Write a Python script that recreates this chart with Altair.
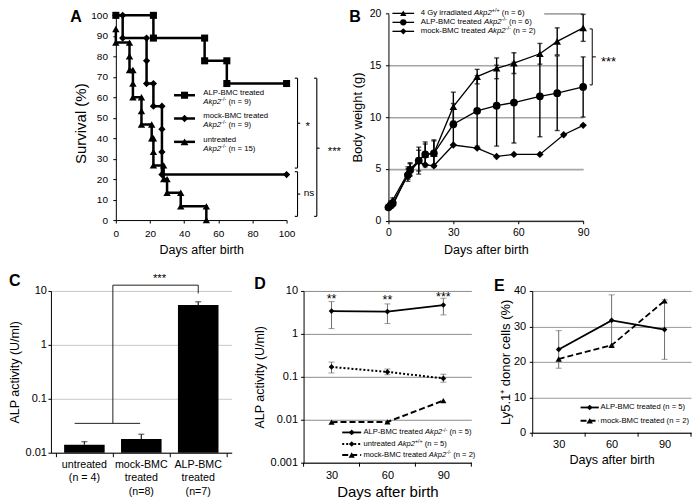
import altair as alt
import pandas as pd

FONT = "Liberation Sans"

# ======================= DATA =======================
# ---- A: Kaplan-Meier survival (vertices of the step curves) ----
a_names = ["ALP-BMC treated", "mock-BMC treated", "untreated"]
a_n = ["9", "9", "15"]
a_alp_day = [0, 22, 22, 52, 52, 65, 65, 100]
a_alp_surv = [100, 100, 88.9, 88.9, 77.8, 77.8, 66.7, 66.7]
a_mock_day = [0, 4, 4, 18, 18, 18, 22, 22, 27, 27, 27, 27, 100]
a_mock_surv = [100, 100, 88.9, 88.9, 77.8, 66.7, 66.7, 55.6, 55.6, 44.4, 33.3, 22.2, 22.2]
a_unt_day = [0, 0, 8, 8, 8, 10, 10, 10, 15, 15, 15, 21, 21, 22, 22, 22, 28, 28, 30, 30, 38, 38, 53, 53]
a_unt_surv = [93.3, 86.7, 86.7, 80, 73.3, 73.3, 66.7, 60, 60, 53.3, 46.7, 46.7, 40, 40,
              33.3, 26.7, 26.7, 20, 20, 13.3, 13.3, 6.7, 6.7, 0]
a_x_ticks = [0, 20, 40, 60, 80, 100]
a_y_ticks = [0, 10, 20, 30, 40, 50, 60, 70, 80, 90, 100]
a_sig = ["*", "ns", "***"]

# ---- B: body weight ----
b_names = ["4 Gy irradiated", "ALP-BMC treated", "mock-BMC treated"]
b_geno = ["+/+", "-/-", "-/-"]
b_n = ["6", "6", "2"]
b_day = [0, 1, 2, 9, 10, 14, 17, 21, 30, 41, 50, 58, 70, 78, 90]
b_irr = [1.4, 1.7, 2.0, 4.6, 5.0, 5.8, 6.4, 6.5, 11.0, 13.9, 14.7, 15.2, 16.1, 17.3, 18.6]
b_irr_sd = [0.1, 0.2, 0.2, 0.6, 0.6, 1.0, 1.0, 1.2, 1.4, 0.7, 1.0, 1.0, 1.0, 1.3, 1.3]
b_alp = [1.3, 1.5, 1.7, 4.4, 4.9, 5.8, 6.4, 6.5, 9.3, 10.6, 11.1, 11.4, 12.0, 12.3, 12.9]
b_alp_sd = [0.1, 0.2, 0.2, 0.6, 0.6, 1.3, 1.2, 1.3, 2.0, 3.4, 3.9, 3.9, 3.9, 3.6, 2.9]
b_mock_day = [0, 2, 9, 14, 17, 21, 30, 41, 50, 58, 70, 81, 90]
b_mock = [1.3, 1.5, 4.5, 5.7, 5.4, 5.3, 7.3, 7.0, 6.2, 6.4, 6.4, 8.3, 9.2]
b_x_ticks = [0, 30, 60, 90]
b_y_ticks = [0, 5, 10, 15, 20]
b_sig = "***"

# ---- C: ALP activity bars ----
c_labels = ["untreated\n(n = 4)", "mock-BMC\ntreated\n(n=8)", "ALP-BMC\ntreated\n(n=7)"]
c_pos = [1, 2, 3]
c_mean = [0.014, 0.018, 5.5]
c_err = [0.002, 0.004, 0.8]
c_y_ticks = [0.01, 0.1, 1, 10]
c_x_bounds = [0.5, 1.5, 2.5, 3.5]
c_sig = "***"

# ---- D: ALP activity over time ----
d_names = ["ALP-BMC treated", "untreated", "mock-BMC treated"]
d_geno = ["-/-", "+/+", "-/-"]
d_n = ["5", "5", "2"]
d_days = [30, 60, 90]
d_alp = [3.4, 3.3, 4.7]
d_alp_lo = [1.33, 1.74, 2.77]
d_alp_hi = [5.65, 4.99, 6.76]
d_wt = [0.17, 0.13, 0.092]
d_wt_lo = [0.123, 0.112, 0.075]
d_wt_hi = [0.22, 0.152, 0.115]
d_mock = [0.0088, 0.0089, 0.028]
d_sig = ["**", "**", "***"]
d_y_ticks = [0.001, 0.01, 0.1, 1, 10]
d_x_bounds = [15, 45, 75, 105]

# ---- E: donor chimerism ----
e_names = ["ALP-BMC treated", "mock-BMC treated"]
e_n = ["5", "2"]
e_days = [30, 60, 90]
e_alp = [23.5, 31.7, 29.1]
e_alp_sd = [5.3, 7.2, 8.4]
e_mock = [20.8, 24.7, 37.2]
e_y_ticks = [0, 10, 20, 30, 40]
e_x_bounds = [15, 45, 75, 105]

# ======================= HELPERS =======================
ONE = pd.DataFrame({"k": [0]})
AW = {' ': 278, '(': 333, ')': 333, '*': 389, '+': 584, '-': 333, '.': 278, '/': 278, '=': 584,
      'A': 667, 'B': 667, 'C': 722, 'G': 778, 'L': 556, 'M': 833, 'P': 667, 'y': 500,
      'a': 556, 'b': 556, 'c': 500, 'd': 556, 'e': 556, 'i': 222, 'k': 500, 'l': 222,
      'm': 833, 'n': 556, 'o': 556, 'p': 556, 'r': 333, 's': 500, 't': 278, 'u': 556, 'v': 500}


def tw(s, fs):
    return sum(AW.get(ch, 556) for ch in s) * fs / 1000.0


def ax(**kw):
    base = dict(labelFont=FONT, titleFont=FONT, labelColor="black", titleColor="black",
                domainColor="black", tickColor="black", titleFontWeight="normal",
                labelFlush=False, labelOverlap=False, domainWidth=1, tickWidth=1, grid=False,
                titleAlign="center", titleBaseline="middle")
    base.update(kw)
    return alt.Axis(**base)


def txt(x, y, s, fs, align="left", baseline="middle", style="normal", weight="normal"):
    return alt.Chart(ONE).mark_text(text=s, font=FONT, fontSize=fs, align=align, baseline=baseline,
                                    fontStyle=style, fontWeight=weight, color="black").encode(
        x=alt.value(x), y=alt.value(y))


def rich(x, y, segs, fs):
    out = []
    for s, kind in segs:
        size = fs * 0.7 if kind == "s" else fs
        lead = s[: len(s) - len(s.lstrip())]
        x += tw(lead, size)
        body = s.strip()
        if body:
            yy = y - fs * 0.38 if kind == "s" else y
            out.append(txt(x, yy, body, size, style="italic" if kind == "i" else "normal"))
        x += tw(s.lstrip(), size)
    return out


def legend_key(x1, x2, y, shape, msize, sw, dash=None):
    kw = dict(color="black", strokeWidth=sw)
    if dash:
        kw["strokeDash"] = dash
    line = alt.Chart(ONE).mark_rule(**kw).encode(x=alt.value(x1), x2=alt.value(x2), y=alt.value(y))
    pt = alt.Chart(ONE).mark_point(shape=shape, size=msize, filled=True, color="black",
                                   opacity=1).encode(x=alt.value((x1 + x2) / 2), y=alt.value(y))
    return [line, pt]


def bracket(x, y_top, y_bot, tail, tick, y_mid):
    return [(x, x, y_top, y_bot), (x - tail, x, y_top, y_top), (x - tail, x, y_bot, y_bot),
            (x, x + tick, y_mid, y_mid)]


def anchor(x, y):
    # invisible 1px point, only used to pin the layout bounds
    return alt.Chart(ONE).mark_point(opacity=0, size=1).encode(x=alt.value(x), y=alt.value(y))


def spacer(w, pts=((1, 0.5),)):
    return alt.layer(*[anchor(x, y) for x, y in pts]).properties(width=w, height=1)


# ======================= PANEL A =======================
A_W, A_H = 171, 207
a_df = pd.concat([
    pd.DataFrame({"day": a_alp_day, "surv": a_alp_surv, "s": a_names[0]}),
    pd.DataFrame({"day": a_mock_day, "surv": a_mock_surv, "s": a_names[1]}),
    pd.DataFrame({"day": a_unt_day, "surv": a_unt_surv, "s": a_names[2]}),
], ignore_index=True)
a_df["i"] = a_df.groupby("s").cumcount()
A_X = alt.X("day:Q", scale=alt.Scale(domain=[0, 100], nice=False, zero=False),
            axis=ax(values=a_x_ticks, title="Days after birth", titleFontSize=12.5, labelFontSize=10,
                    tickSize=3, labelPadding=5, titleX=A_W / 2, titleY=30))
A_Y = alt.Y("surv:Q", scale=alt.Scale(domain=[0, 100.98], nice=False, zero=False),
            axis=ax(values=a_y_ticks, title="Survival (%)", titleFontSize=15, labelFontSize=10,
                    tickSize=3, labelPadding=5.4, titleX=-35.7, titleY=110, titleAngle=270))
a_shapes = ["square", "diamond", "triangle-up"]
a_msz = [50, 55, 62]
a_layers = [
    alt.Chart(a_df).mark_line(color="black", strokeWidth=2.5).encode(
        x=A_X, y=A_Y, detail="s:N", order="i:Q"),
    alt.Chart(a_df).mark_point(filled=True, opacity=1, color="black").encode(
        x=A_X, y=A_Y,
        shape=alt.Shape("s:N", scale=alt.Scale(domain=a_names, range=a_shapes), legend=None),
        size=alt.Size("s:N", scale=alt.Scale(domain=a_names, range=a_msz), legend=None)),
]
a_br = pd.DataFrame(bracket(106.4, 69.3, 25.4, 1.6, 1.6, 47.3) + bracket(106.4, 23.6, 1.8, 1.6, 1.6, 12.7)
                    + bracket(117.7, 69.3, 1.8, 1.6, 1.6, 35.1), columns=["day", "day2", "surv", "surv2"])
a_layers.append(alt.Chart(a_br).mark_rule(color="black", strokeWidth=1.1).encode(
    x=A_X, x2="day2:Q", y=A_Y, y2="surv2:Q"))
a_star = pd.DataFrame({"day": [112.3, 128.0], "surv": [44.1, 31.9], "t": [a_sig[0], a_sig[2]]})
a_ns = pd.DataFrame({"day": [113.1], "surv": [11.7], "t": [a_sig[1]]})
a_layers.append(alt.Chart(a_star).mark_text(font=FONT, fontSize=11.4, align="center", baseline="alphabetic",
                                            color="black").encode(x=A_X, y=A_Y, text="t:N"))
a_layers.append(alt.Chart(a_ns).mark_text(font=FONT, fontSize=10, align="center", baseline="alphabetic",
                                          color="black").encode(x=A_X, y=A_Y, text="t:N"))
a_leg_y = [82, 105.3, 128.7]
for k in range(3):
    a_layers += legend_key(58.3, 79.3, a_leg_y[k], a_shapes[k], a_msz[k], 2.5)
    a_layers += rich(87.6, a_leg_y[k] - 2.3, [(a_names[k], "n")], 7.8)
    a_layers += rich(87.6, a_leg_y[k] + 6.7, [("Akp2", "i"), ("-/-", "s"), (" (n = %s)" % a_n[k], "n")], 7.8)
a_layers.append(txt(-45.7, -4.5, "A", 16, baseline="top", weight="bold"))
panel_a = alt.layer(*a_layers).properties(width=A_W, height=A_H)

# ======================= PANEL B =======================
B_W, B_H = 195, 207.7
B_X = alt.X("day:Q", scale=alt.Scale(domain=[0, 90], nice=False, zero=False),
            axis=ax(values=b_x_ticks, title="Days after birth", titleFontSize=12.5, labelFontSize=10.5,
                    tickSize=3, labelPadding=3.8, titleX=B_W / 2, titleY=29.3))
B_Y = alt.Y("w:Q", scale=alt.Scale(domain=[0, 20], nice=False, zero=False),
            axis=ax(values=b_y_ticks, title="Body weight (g)", titleFontSize=13, labelFontSize=10.5,
                    tickSize=3, labelPadding=4.6, titleX=-31, titleY=B_H / 2, titleAngle=270,
                    grid=True, gridColor="#a6a6a6", gridWidth=1.6))
b_irr_df = pd.DataFrame({"day": b_day, "w": b_irr})
b_alp_df = pd.DataFrame({"day": b_day, "w": b_alp})
b_mock_df = pd.DataFrame({"day": b_mock_day, "w": b_mock})
irr_lo = [m - s for m, s in zip(b_irr, b_irr_sd)]
irr_hi = [m + s for m, s in zip(b_irr, b_irr_sd)]
alp_lo = [m - s for m, s in zip(b_alp, b_alp_sd)]
alp_hi = [m + s for m, s in zip(b_alp, b_alp_sd)]
b_err = pd.DataFrame({"day": b_day * 2, "w": irr_lo + alp_lo, "w2": irr_hi + alp_hi})
b_cap = pd.DataFrame({"day": b_day * 4, "w": irr_lo + irr_hi + alp_lo + alp_hi})
b_shapes = ["triangle-up", "circle", "diamond"]
b_msz = [58, 60, 55]
b_layers = [
    alt.Chart(ONE).mark_rect(color="white").encode(x=alt.value(1), x2=alt.value(156),
                                                   y=alt.value(-2), y2=alt.value(2)),
]
for dfx in (b_irr_df, b_alp_df, b_mock_df):
    b_layers.append(alt.Chart(dfx).mark_line(color="black", strokeWidth=1.3).encode(x=B_X, y=B_Y))
b_layers.append(alt.Chart(b_err).mark_rule(color="black", strokeWidth=1.4).encode(x=B_X, y=B_Y, y2="w2:Q"))
b_layers.append(alt.Chart(b_cap).mark_tick(color="black", orient="horizontal", size=5, thickness=1.4).encode(
    x=B_X, y=B_Y))
for dfx, shp, ms in zip((b_irr_df, b_alp_df, b_mock_df), b_shapes, b_msz):
    b_layers.append(alt.Chart(dfx).mark_point(shape=shp, size=ms, filled=True, color="black",
                                              opacity=1).encode(x=B_X, y=B_Y))
b_br = pd.DataFrame(bracket(94.2, 18.5, 13.1, 1.2, 1.7, 15.8), columns=["day", "day2", "w", "w2"])
b_layers.append(alt.Chart(b_br).mark_rule(color="black", strokeWidth=1).encode(
    x=B_X, x2="day2:Q", y=B_Y, y2="w2:Q"))
b_star = pd.DataFrame({"day": [98.2], "w": [14.95], "t": [b_sig]})
b_layers.append(alt.Chart(b_star).mark_text(font=FONT, fontSize=13, align="left", baseline="alphabetic",
                                            color="black").encode(x=B_X, y=B_Y, text="t:N"))
b_leg_y = [0, 9, 18]
for k in range(3):
    b_layers += legend_key(4, 25.7, b_leg_y[k], b_shapes[k], 40, 1.3)
    b_layers += rich(32.4, b_leg_y[k], [(b_names[k] + " ", "n"), ("Akp2", "i"), (b_geno[k], "s"),
                                         (" (n = %s)" % b_n[k], "n")], 7.8)
b_layers.append(txt(-39.3, -4.5, "B", 16, baseline="top", weight="bold"))
panel_b = alt.layer(*b_layers).properties(width=B_W, height=B_H)

# ======================= PANEL C =======================
C_W, C_H = 181, 162
C_X = alt.X("pos:Q", scale=alt.Scale(domain=[0.5, 3.5], nice=False, zero=False),
            axis=ax(values=c_x_bounds, labels=False, tickSize=4, title=""))
C_Y = alt.Y("val:Q", scale=alt.Scale(type="log", domain=[0.01, 10], nice=False),
            axis=ax(values=c_y_ticks, format="~g", title="ALP activity (U/ml)", titleFontSize=12.5,
                    labelFontSize=11, tickSize=3, labelPadding=1.5, titleX=-36, titleY=C_H / 2,
                    titleAngle=270, grid=True, gridColor="#c8c8c8", gridWidth=1))
c_df = pd.DataFrame({"pos": c_pos, "val": c_mean, "label": c_labels})
c_df["base"] = c_y_ticks[0]
c_hi = [m + e for m, e in zip(c_mean, c_err)]
c_errdf = pd.DataFrame({"pos": c_pos, "val": c_mean, "val2": c_hi})
c_capdf = pd.DataFrame({"pos": c_pos, "val": c_hi})
c_br = pd.DataFrame([(0.83, 1.98, 0.035, 0.035), (1.5, 1.5, 0.035, 12.8), (1.5, 3.0, 12.8, 12.8),
                     (3.0, 3.0, 12.8, 9.0)], columns=["pos", "pos2", "val", "val2"])
c_star = pd.DataFrame({"pos": [2.32], "val": [14.4], "t": [c_sig]})
c_layers = [
    anchor(-42.5, -25),
    alt.Chart(c_df).mark_bar(size=40.6, color="black").encode(x=C_X, y=C_Y, y2="base:Q"),
    alt.Chart(c_errdf).mark_rule(color="#222222", strokeWidth=1.2).encode(x=C_X, y=C_Y, y2="val2:Q"),
    alt.Chart(c_capdf).mark_tick(color="#222222", orient="horizontal", size=6, thickness=1.2).encode(
        x=C_X, y=C_Y),
    alt.Chart(c_df).mark_text(font=FONT, fontSize=10.7, lineHeight=13.8, lineBreak="\n", align="center",
                              baseline="top", color="black").encode(
        x=C_X, y=alt.value(C_H + 7), text="label:N"),
    alt.Chart(c_br).mark_rule(color="#222222", strokeWidth=1).encode(x=C_X, x2="pos2:Q", y=C_Y, y2="val2:Q"),
    alt.Chart(c_star).mark_text(font=FONT, fontSize=11.4, align="center", baseline="alphabetic",
                                color="black").encode(x=C_X, y=C_Y, text="t:N"),
    txt(-42, -18, "C", 16, baseline="top", weight="bold"),
]
panel_c = alt.layer(*c_layers).properties(width=C_W, height=C_H)

# ======================= PANEL D =======================
D_W, D_H = 168, 172
D_X = alt.X("day:Q", scale=alt.Scale(domain=[15, 105], nice=False, zero=False),
            axis=ax(values=d_days, tickSize=0, labelPadding=7, labelFontSize=11, title="Days after birth",
                    titleFontSize=15, titleX=D_W / 2, titleY=28.5))
D_Y = alt.Y("v:Q", scale=alt.Scale(type="log", domain=[0.001, 10], nice=False),
            axis=ax(values=d_y_ticks, format="~g", title="ALP activity (U/ml)", titleFontSize=12.5,
                    labelFontSize=11, tickSize=3, labelPadding=3, titleX=-44.3, titleY=D_H / 2,
                    titleAngle=270, grid=True, gridColor="#8c8c8c", gridWidth=1))
d_alp_df = pd.DataFrame({"day": d_days, "v": d_alp})
d_wt_df = pd.DataFrame({"day": d_days, "v": d_wt})
d_mock_df = pd.DataFrame({"day": d_days, "v": d_mock})
d_err = pd.DataFrame({"day": d_days * 2, "v": d_alp_lo + d_wt_lo, "v2": d_alp_hi + d_wt_hi})
d_cap = pd.DataFrame({"day": d_days * 4, "v": d_alp_lo + d_alp_hi + d_wt_lo + d_wt_hi})
d_star = pd.DataFrame({"day": d_days, "v": [5.2, 5.0, 5.7], "t": d_sig})
d_dash = [None, [2, 2], [6, 3]]
d_sw = [1.8, 2, 2]
d_shapes = ["diamond", "diamond", "triangle-up"]
d_msz = [32, 32, 38]
d_layers = [
    alt.Chart(pd.DataFrame({"day": d_x_bounds})).mark_rule(color="black", strokeWidth=1).encode(
        x=D_X, y=alt.value(D_H), y2=alt.value(D_H + 4)),
]
for dfx, dsh, sw in zip((d_alp_df, d_wt_df, d_mock_df), d_dash, d_sw):
    kw = dict(color="black", strokeWidth=sw)
    if dsh:
        kw["strokeDash"] = dsh
    d_layers.append(alt.Chart(dfx).mark_line(**kw).encode(x=D_X, y=D_Y))
d_layers.append(alt.Chart(d_err).mark_rule(color="#6e6e6e", strokeWidth=1).encode(x=D_X, y=D_Y, y2="v2:Q"))
d_layers.append(alt.Chart(d_cap).mark_tick(color="#6e6e6e", orient="horizontal", size=6, thickness=1).encode(
    x=D_X, y=D_Y))
for dfx, shp, ms in zip((d_alp_df, d_wt_df, d_mock_df), d_shapes, d_msz):
    d_layers.append(alt.Chart(dfx).mark_point(shape=shp, size=ms, filled=True, color="black",
                                              opacity=1).encode(x=D_X, y=D_Y))
d_layers.append(alt.Chart(d_star).mark_text(font=FONT, fontSize=12.5, align="center", baseline="alphabetic",
                                            color="black").encode(x=D_X, y=D_Y, text="t:N"))
d_leg_y = [141.7, 153.3, 164.3]
for k in range(3):
    d_layers += legend_key(38.7, 57.7, d_leg_y[k], d_shapes[k], d_msz[k], d_sw[k], d_dash[k])
    d_layers += rich(60, d_leg_y[k], [(d_names[k] + " ", "n"), ("Akp2", "i"), (d_geno[k], "s"),
                                       (" (n = %s)" % d_n[k], "n")], 7.6)
d_layers.append(txt(-49.3, -14.5, "D", 16, baseline="top", weight="bold"))
panel_d = alt.layer(*d_layers).properties(width=D_W, height=D_H)

# ======================= PANEL E =======================
E_W, E_H = 159, 142
E_X = alt.X("day:Q", scale=alt.Scale(domain=[15, 105], nice=False, zero=False),
            axis=ax(values=e_days, tickSize=0, labelPadding=5.3, labelFontSize=11, title="Days after birth",
                    titleFontSize=12.6, titleX=E_W / 2, titleY=26.6))
E_Y = alt.Y("v:Q", scale=alt.Scale(domain=[0, 40], nice=False, zero=False),
            axis=ax(values=e_y_ticks, title="Ly5.1\u207a donor cells (%)", titleFontSize=13,
                    labelFontSize=11, tickSize=3, labelPadding=3.6, titleX=-26.6, titleY=E_H / 2,
                    titleAngle=270, grid=True, gridColor="#9a9a9a", gridWidth=1))
e_alp_df = pd.DataFrame({"day": e_days, "v": e_alp})
e_mock_df = pd.DataFrame({"day": e_days, "v": e_mock})
e_lo = [m - s for m, s in zip(e_alp, e_alp_sd)]
e_hi = [m + s for m, s in zip(e_alp, e_alp_sd)]
e_err = pd.DataFrame({"day": e_days, "v": e_lo, "v2": e_hi})
e_cap = pd.DataFrame({"day": e_days * 2, "v": e_lo + e_hi})
e_dash = [None, [6, 3]]
e_shapes = ["diamond", "triangle-up"]
e_msz = [32, 40]
e_layers = [
    alt.Chart(pd.DataFrame({"day": e_x_bounds})).mark_rule(color="black", strokeWidth=1).encode(
        x=E_X, y=alt.value(E_H), y2=alt.value(E_H + 4)),
]
for dfx, dsh in zip((e_alp_df, e_mock_df), e_dash):
    kw = dict(color="black", strokeWidth=1.8)
    if dsh:
        kw["strokeDash"] = dsh
    e_layers.append(alt.Chart(dfx).mark_line(**kw).encode(x=E_X, y=E_Y))
e_layers.append(alt.Chart(e_err).mark_rule(color="#6e6e6e", strokeWidth=1).encode(x=E_X, y=E_Y, y2="v2:Q"))
e_layers.append(alt.Chart(e_cap).mark_tick(color="#6e6e6e", orient="horizontal", size=6, thickness=1).encode(
    x=E_X, y=E_Y))
for dfx, shp, ms in zip((e_alp_df, e_mock_df), e_shapes, e_msz):
    e_layers.append(alt.Chart(dfx).mark_point(shape=shp, size=ms, filled=True, color="black",
                                              opacity=1).encode(x=E_X, y=E_Y))
e_leg_y = [116.7, 130]
for k in range(2):
    e_layers += legend_key(48.4, 66.7, e_leg_y[k], e_shapes[k], e_msz[k], 1.8, e_dash[k])
    e_layers += rich(68.4, e_leg_y[k], [(e_names[k] + " (n = %s)" % e_n[k], "n")], 7.7)
e_layers.append(txt(-38.3, -13, "E", 16, baseline="top", weight="bold"))
panel_e = alt.layer(*e_layers).properties(width=E_W, height=E_H)

# ======================= LAYOUT =======================
row1 = alt.hconcat(spacer(65, ((-42.5, -4.5), (-42.5, 251.5))), panel_a, spacer(102), panel_b,
                   spacing=0, bounds="flush")
row2 = alt.hconcat(panel_c, spacer(72), panel_d, spacer(61), panel_e, spacing=0, bounds="flush")
chart = alt.vconcat(row1, row2, spacing=0).properties(
    padding={"left": 0, "top": 0, "right": 0, "bottom": 0}
).configure(font=FONT).configure_view(stroke="transparent", strokeWidth=0)

chart.save("out.html", embed_options={"renderer": "svg", "actions": False})
